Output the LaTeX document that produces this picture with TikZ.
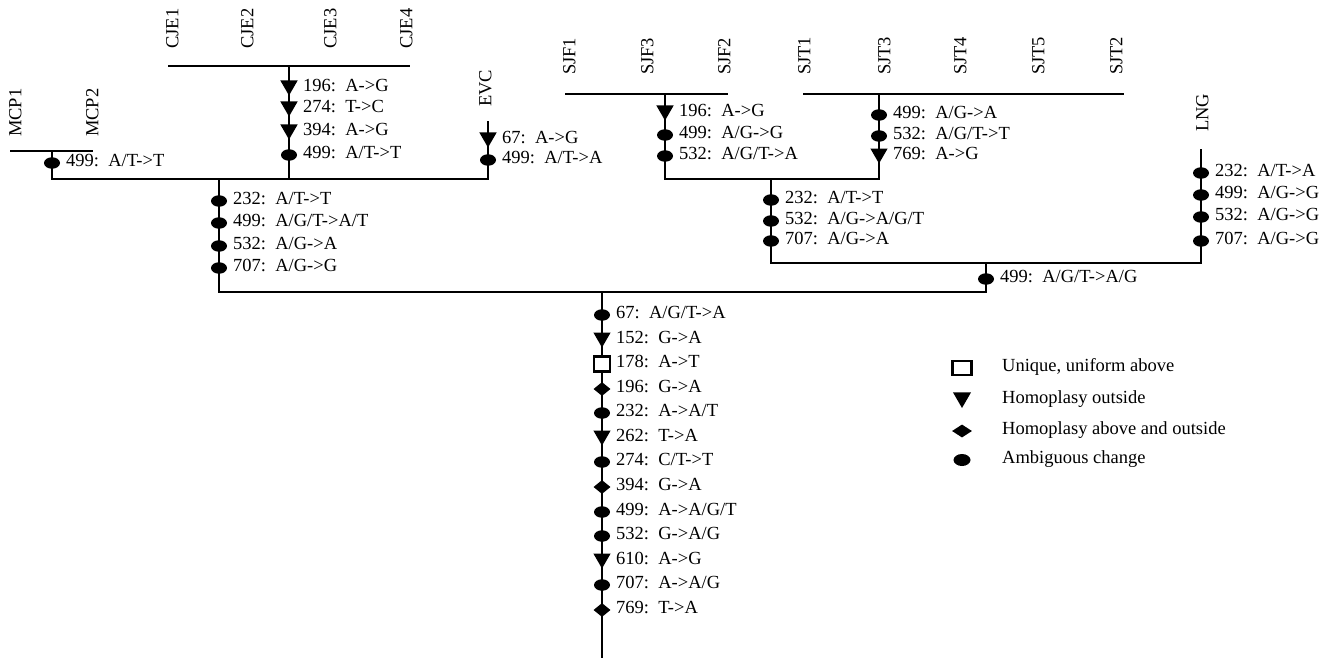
\documentclass[tikz,border=0pt]{standalone}
\usepackage{fontspec}
\setmainfont{Liberation Serif}
\usetikzlibrary{shapes.geometric}

% one character change on a branch: marker symbol plus its label
\newcommand\change[6]{%
  \node[#1] (#2) at (#3,#4) {};
  \node[chg] (#2t) at (#3+14,#4) {#5:\hspace{0.5em}#6};}

\begin{document}
\begin{tikzpicture}[x=1pt,y=-1pt,
  every node/.style={font=\fontsize{18.5}{20}\selectfont},
  branch/.style={line width=2.9pt, line cap=rect},
  ambig/.style={ellipse, fill=black, inner sep=0pt, minimum width=16pt, minimum height=11.5pt},
  homout/.style={regular polygon, regular polygon sides=3, shape border rotate=180,
    fill=black, inner sep=0pt, minimum size=20pt, yshift=2.5pt},
  homboth/.style={diamond, fill=black, inner sep=0pt, minimum width=17pt, minimum height=14pt},
  uniq/.style={rectangle, draw=black, fill=white, line width=2.2pt, inner sep=0pt,
    minimum width=16pt, minimum height=15pt},
  chg/.style={anchor=west, inner sep=0pt, text height=0.68em, text depth=0pt},
  taxon/.style={rotate=90, anchor=west, inner sep=0pt, text height=0.68em, text depth=0pt},
  legtxt/.style={anchor=west, inner sep=0pt, text height=0.68em, text depth=0pt},
]
\useasboundingbox (0,0) rectangle (1330,658);

% ---- junctions of the tree ----
\coordinate (mcpL) at (11,151);   \coordinate (mcpR) at (92,151);
\coordinate (mcpJ) at (52,151);   \coordinate (mcpB) at (52,179);
\coordinate (cjeL) at (169,66);   \coordinate (cjeR) at (409,66);
\coordinate (cjeJ) at (289,66);   \coordinate (cjeB) at (289,179);
\coordinate (evcT) at (488,122);  \coordinate (evcB) at (488,179);
\coordinate (lcJ)  at (219,179);  \coordinate (lcB)  at (219,292);
\coordinate (rootT) at (602,292); \coordinate (rootB) at (602,658);
\coordinate (sjB)  at (986,292);  \coordinate (sjT)  at (986,263);
\coordinate (sjiB) at (771,263);  \coordinate (sjiT) at (771,179);
\coordinate (lngB) at (1201,263); \coordinate (lngT) at (1201,150);
\coordinate (sjfB) at (665,179);  \coordinate (sjtB) at (879,179);
\coordinate (sjfL) at (566,94);   \coordinate (sjfR) at (727,94);
\coordinate (sjfJ) at (665,94);
\coordinate (sjtL) at (804,94);   \coordinate (sjtR) at (1123,94);
\coordinate (sjtJ) at (879,94);

% ---- branches ----
\draw[branch] (mcpL) -- (mcpR);
\draw[branch] (mcpJ) -- (mcpB) -- (evcB) -- (evcT);
\draw[branch] (cjeL) -- (cjeR);
\draw[branch] (cjeJ) -- (cjeB);
\draw[branch] (lcJ) -- (lcB) -- (sjB) -- (sjT);
\draw[branch] (rootT) -- (rootB);
\draw[branch] (sjiT) -- (sjiB) -- (lngB) -- (lngT);
\draw[branch] (sjfL) -- (sjfR);
\draw[branch] (sjtL) -- (sjtR);
\draw[branch] (sjfJ) -- (sjfB) -- (sjtB) -- (sjtJ);

% ---- taxa ----
\node[taxon] (MCP1) at (18,137) {MCP1};
\node[taxon] (MCP2) at (95,137) {MCP2};
\node[taxon] (CJE1) at (175,49) {CJE1};
\node[taxon] (CJE2) at (250,49) {CJE2};
\node[taxon] (CJE3) at (333,49) {CJE3};
\node[taxon] (CJE4) at (409,49) {CJE4};
\node[taxon] (EVC)  at (488,107) {EVC};
\node[taxon] (SJF1) at (572,75) {SJF1};
\node[taxon] (SJF3) at (650,75) {SJF3};
\node[taxon] (SJF2) at (727,75) {SJF2};
\node[taxon] (SJT1) at (807,75) {SJT1};
\node[taxon] (SJT3) at (887,75) {SJT3};
\node[taxon] (SJT4) at (963,75) {SJT4};
\node[taxon] (SJT5) at (1041,75) {SJT5};
\node[taxon] (SJT2) at (1119,75) {SJT2};
\node[taxon] (LNG)  at (1205,132) {LNG};

% ---- changes on each branch ----
\change{ambig}{mcpa}{52}{163}{499}{A/T->T}

\change{homout}{cjea}{289}{88}{196}{A->G}
\change{homout}{cjeb}{289}{109}{274}{T->C}
\change{homout}{cjec}{289}{132}{394}{A->G}
\change{ambig}{cjed}{289}{155}{499}{A/T->T}

\change{homout}{evca}{488}{140}{67}{A->G}
\change{ambig}{evcb}{488}{160}{499}{A/T->A}

\change{ambig}{lca}{219}{201}{232}{A/T->T}
\change{ambig}{lcb}{219}{223}{499}{A/G/T->A/T}
\change{ambig}{lcc}{219}{246}{532}{A/G->A}
\change{ambig}{lcd}{219}{268}{707}{A/G->G}

\change{homout}{sjfa}{665}{113}{196}{A->G}
\change{ambig}{sjfb}{665}{135}{499}{A/G->G}
\change{ambig}{sjfc}{665}{156}{532}{A/G/T->A}

\change{ambig}{sjta}{879}{115}{499}{A/G->A}
\change{ambig}{sjtb}{879}{136}{532}{A/G/T->T}
\change{homout}{sjtc}{879}{156}{769}{A->G}

\change{ambig}{sjia}{771}{200}{232}{A/T->T}
\change{ambig}{sjib}{771}{221}{532}{A/G->A/G/T}
\change{ambig}{sjic}{771}{241}{707}{A/G->A}

\change{ambig}{lnga}{1201}{173}{232}{A/T->A}
\change{ambig}{lngb}{1201}{195}{499}{A/G->G}
\change{ambig}{lngc}{1201}{217}{532}{A/G->G}
\change{ambig}{lngd}{1201}{241}{707}{A/G->G}

\change{ambig}{sja}{986}{279}{499}{A/G/T->A/G}

\change{ambig}{rta}{602}{315}{67}{A/G/T->A}
\change{homout}{rtb}{602}{340}{152}{G->A}
\change{uniq}{rtc}{602}{364}{178}{A->T}
\change{homboth}{rtd}{602}{389}{196}{G->A}
\change{ambig}{rte}{602}{413}{232}{A->A/T}
\change{homout}{rtf}{602}{438}{262}{T->A}
\change{ambig}{rtg}{602}{462}{274}{C/T->T}
\change{homboth}{rth}{602}{487}{394}{G->A}
\change{ambig}{rti}{602}{512}{499}{A->A/G/T}
\change{ambig}{rtj}{602}{536}{532}{G->A/G}
\change{homout}{rtk}{602}{561}{610}{A->G}
\change{ambig}{rtl}{602}{585}{707}{A->A/G}
\change{homboth}{rtm}{602}{610}{769}{T->A}

% ---- legend ----
\node[uniq, minimum width=19pt, minimum height=14pt] (kuniq) at (962,368) {};
\node[legtxt] (kuniqt) at (1002,368) {Unique, uniform above};
\node[homout, minimum size=21pt] (kout) at (962,400) {};
\node[legtxt] (koutt) at (1002,400) {Homoplasy outside};
\node[homboth, minimum width=20pt, minimum height=13pt] (kboth) at (962,431) {};
\node[legtxt] (kbotht) at (1002,431) {Homoplasy above and outside};
\node[ambig, minimum width=17pt, minimum height=12pt] (kamb) at (962,460) {};
\node[legtxt] (kambt) at (1002,460) {Ambiguous change};
\end{tikzpicture}
\end{document}
